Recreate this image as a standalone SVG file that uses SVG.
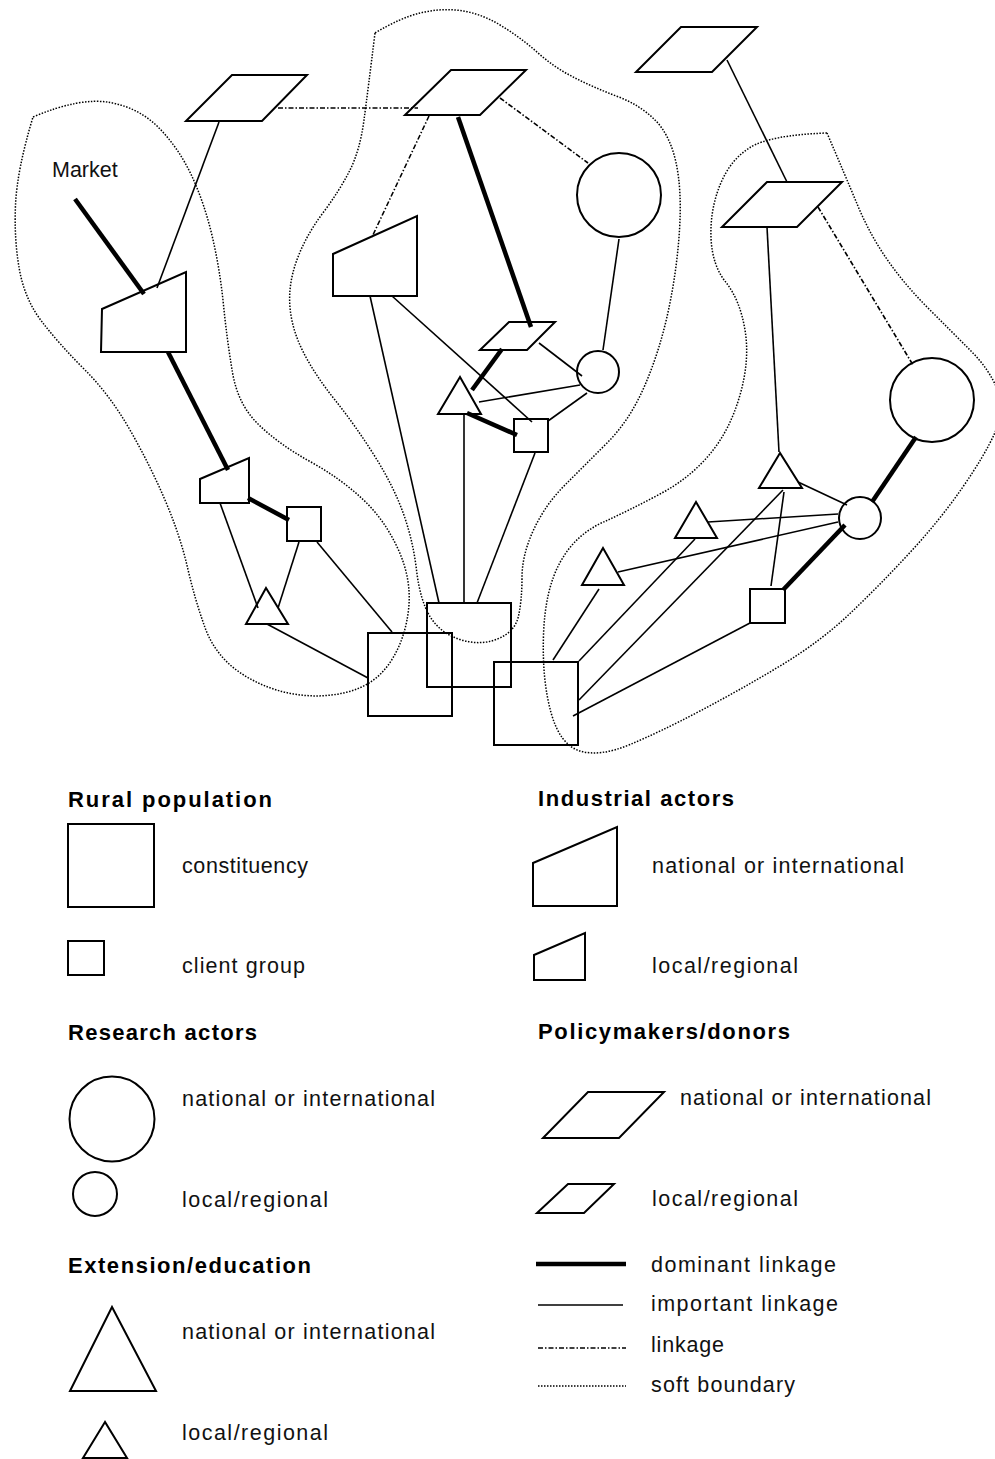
<svg xmlns="http://www.w3.org/2000/svg" width="995" height="1459" viewBox="0 0 995 1459">
<style>
.node{fill:none;stroke:#000;stroke-width:2;stroke-linejoin:miter}
.imp{stroke:#000;stroke-width:1.6;fill:none}
.dom{stroke:#000;stroke-width:4.5;fill:none}
.lnk{stroke:#000;stroke-width:1.6;fill:none;stroke-dasharray:5 2 1.5 2}
.soft{stroke:#000;stroke-width:1.5;fill:none;stroke-dasharray:1.5 1.5}
.t{font-family:"Liberation Sans",Arial,sans-serif;font-size:21.5px;fill:#111}
.h{font-family:"Liberation Sans",Arial,sans-serif;font-size:22px;font-weight:bold;fill:#000}
</style>
<rect width="995" height="1459" fill="#fff"/>
<g id="boundaries">
<path class="soft" d="M33,117 Q80,97 110,102.5 Q140,108 160,129 Q180,150 192.5,177.5 Q205,205 212.5,237.5 Q220,270 223.5,305 Q227,340 232.5,372.5 Q238,405 259,425 Q280,445 310,461.5 Q340,478 362.5,499 Q385,520 398.5,550 Q412,580 408.5,610 Q405,640 390,662.5 Q375,685 347.5,692 Q320,699 291,693.5 Q262,688 238.5,671.5 Q215,655 205,627.5 Q195,600 187.5,567.5 Q180,535 165,500 Q150,465 130,430 Q110,395 85,370 Q60,345 42.5,322.5 Q25,300 19.5,270 Q14,240 15.5,205 Q17,170 33,117"/>
<path class="soft" d="M375,33 Q368,90 364,120 Q360,150 350,170 Q340,190 322.5,213.5 Q305,237 296.5,261 Q288,285 290,307.5 Q292,330 303.5,352.5 Q315,375 335,400 Q355,425 374,455 Q393,485 403,512.5 Q413,540 416.5,570 Q420,600 430,616.5 Q440,633 460,639.5 Q480,646 497.5,639 Q515,632 518.5,616 Q522,600 522,577.5 Q522,555 533.5,530 Q545,505 565,485 Q585,465 607.5,442.5 Q630,420 645,385 Q660,350 668.5,310 Q677,270 679.5,230 Q682,190 676,162.5 Q670,135 655,120 Q640,105 617.5,96.5 Q595,88 575,78 Q555,68 537.5,52.5 Q520,37 500,25 Q480,13 460,10.5 Q440,8 420,13 Q400,18 375,33"/>
<path class="soft" d="M827,133 Q770,135 750,147.5 Q730,160 720,185 Q710,210 711,237.5 Q712,265 726,282.5 Q740,300 745,330 Q750,360 740,395 Q730,430 710,454 Q690,478 660,494 Q630,510 602.5,522.5 Q575,535 560,562.5 Q545,590 543.5,635 Q542,680 551,712.5 Q560,745 580,751 Q600,757 630,744.5 Q660,732 700,711 Q740,690 780,666 Q820,642 850,613.5 Q880,585 910,552.5 Q940,520 962.5,487.5 Q985,455 995,432.5 Q1005,410 997.5,390 Q990,370 970,350 Q950,330 927.5,307.5 Q905,285 887.5,260 Q870,235 857.5,205 Q845,175 827,133"/>
</g>
<g id="connectors">
<line class="lnk" x1="278" y1="108" x2="418" y2="108"/>
<line class="lnk" x1="429" y1="116" x2="372" y2="237"/>
<line class="lnk" x1="500" y1="98" x2="588" y2="163"/>
<line class="lnk" x1="818" y1="207" x2="913" y2="365"/>
<line class="imp" x1="219" y1="122" x2="157" y2="288"/>
<line class="imp" x1="619" y1="239" x2="603" y2="350"/>
<line class="imp" x1="539" y1="343" x2="582" y2="376"/>
<line class="imp" x1="392" y1="296" x2="532" y2="422"/>
<line class="imp" x1="479" y1="402" x2="580" y2="385"/>
<line class="imp" x1="548" y1="421" x2="587" y2="393"/>
<line class="imp" x1="464" y1="415" x2="464" y2="603"/>
<line class="imp" x1="535" y1="453" x2="477" y2="603"/>
<line class="imp" x1="370" y1="296" x2="439" y2="603"/>
<line class="imp" x1="220" y1="503" x2="258" y2="608"/>
<line class="imp" x1="299" y1="542" x2="278" y2="608"/>
<line class="imp" x1="317" y1="542" x2="392" y2="632"/>
<line class="imp" x1="267" y1="624" x2="368" y2="678"/>
<line class="imp" x1="727" y1="60" x2="787" y2="182"/>
<line class="imp" x1="767" y1="227" x2="779" y2="452"/>
<line class="imp" x1="798" y1="482" x2="847" y2="505"/>
<line class="imp" x1="708" y1="522" x2="838" y2="514"/>
<line class="imp" x1="618" y1="572" x2="838" y2="522"/>
<line class="imp" x1="784" y1="492" x2="771" y2="586"/>
<line class="imp" x1="553" y1="660" x2="599" y2="589"/>
<line class="imp" x1="579" y1="661" x2="695" y2="539"/>
<line class="imp" x1="579" y1="700" x2="783" y2="490"/>
<line class="imp" x1="573" y1="716" x2="750" y2="623"/>
<line class="dom" x1="75" y1="199" x2="144" y2="294"/>
<line class="dom" x1="168" y1="352" x2="228" y2="470"/>
<line class="dom" x1="248" y1="498" x2="289" y2="520"/>
<line class="dom" x1="458" y1="117" x2="531" y2="327"/>
<line class="dom" x1="502" y1="349" x2="472" y2="390"/>
<line class="dom" x1="467" y1="413" x2="517" y2="435"/>
<line class="dom" x1="916" y1="437" x2="872" y2="502"/>
<line class="dom" x1="783" y1="590" x2="845" y2="525"/>
</g>
<g id="market"><text class="t" x="52" y="177">Market</text></g>
<g id="P1"><polygon class="node" points="232,75 307,75 262,121 186,121"/></g>
<g id="P2"><polygon class="node" points="451,70 526,70 480,115 405,115"/></g>
<g id="P3"><polygon class="node" points="509,322 555,322 527,350 480,350"/></g>
<g id="P4"><polygon class="node" points="681,27 757,27 712,72 636,72"/></g>
<g id="P5"><polygon class="node" points="767,182 842,182 797,227 722,227"/></g>
<g id="I1"><polygon class="node" points="102,309 186,272 186,352 101,352"/></g>
<g id="I2"><polygon class="node" points="333,254 417,216 417,296 333,296"/></g>
<g id="I3"><polygon class="node" points="200,479 249,458 249,503 200,503"/></g>
<g id="C1"><circle class="node" cx="619" cy="195" r="42"/></g>
<g id="C2"><circle class="node" cx="598" cy="372" r="21"/></g>
<g id="C3"><circle class="node" cx="860" cy="518" r="21"/></g>
<g id="C4"><circle class="node" cx="932" cy="400" r="42"/></g>
<g id="T1"><polygon class="node" points="460,377 438,414 481,414"/></g>
<g id="T2"><polygon class="node" points="266,588 246,624 288,624"/></g>
<g id="T3"><polygon class="node" points="780,453 759,488 802,488"/></g>
<g id="T4"><polygon class="node" points="696,502 675,538 717,538"/></g>
<g id="T5"><polygon class="node" points="603,548 582,585 624,585"/></g>
<g id="S1"><rect class="node" x="514" y="419" width="34" height="33"/></g>
<g id="S2"><rect class="node" x="287" y="507" width="34" height="34"/></g>
<g id="S3"><rect class="node" x="750" y="589" width="35" height="34"/></g>
<g id="B1"><rect class="node" x="368" y="633" width="84" height="83"/></g>
<g id="B2"><rect class="node" x="427" y="603" width="84" height="84"/></g>
<g id="B3"><rect class="node" x="494" y="662" width="84" height="83"/></g>
<g id="legend">
<text class="h" x="68" y="807" textLength="204">Rural population</text>
<rect class="node" x="68" y="824" width="86" height="83"/>
<text class="t" x="182" y="873" textLength="126">constituency</text>
<rect class="node" x="68" y="941" width="36" height="34"/>
<text class="t" x="182" y="973" textLength="123">client group</text>
<text class="h" x="68" y="1040" textLength="189">Research actors</text>
<circle class="node" cx="112" cy="1119" r="42.5"/>
<text class="t" x="182" y="1106" textLength="253">national or international</text>
<circle class="node" cx="95" cy="1194" r="22"/>
<text class="t" x="182" y="1207" textLength="146">local/regional</text>
<text class="h" x="68" y="1273" textLength="243">Extension/education</text>
<polygon class="node" points="112,1307 70,1391 156,1391"/>
<text class="t" x="182" y="1339" textLength="253">national or international</text>
<polygon class="node" points="105,1422 83,1458 127,1458"/>
<text class="t" x="182" y="1440" textLength="146">local/regional</text>
<text class="h" x="538" y="806" textLength="196">Industrial actors</text>
<polygon class="node" points="533,863 617,827 617,906 533,906"/>
<text class="t" x="652" y="873" textLength="252">national or international</text>
<polygon class="node" points="534,955 585,933 585,980 534,980"/>
<text class="t" x="652" y="973" textLength="146">local/regional</text>
<text class="h" x="538" y="1039" textLength="252">Policymakers/donors</text>
<polygon class="node" points="588,1092 664,1092 619,1138 543,1138"/>
<text class="t" x="680" y="1105" textLength="251">national or international</text>
<polygon class="node" points="568,1184 614,1184 584,1213 537,1213"/>
<text class="t" x="652" y="1206" textLength="146">local/regional</text>
<line class="dom" x1="536" y1="1264" x2="626" y2="1264"/>
<text class="t" x="651" y="1272" textLength="185">dominant linkage</text>
<line class="imp" x1="538" y1="1305" x2="623" y2="1305"/>
<text class="t" x="651" y="1311" textLength="187">important linkage</text>
<line class="lnk" x1="538" y1="1348" x2="626" y2="1348"/>
<text class="t" x="651" y="1352" textLength="73">linkage</text>
<line class="soft" x1="538" y1="1386" x2="626" y2="1386"/>
<text class="t" x="651" y="1392" textLength="144">soft boundary</text>
</g>
</svg>
